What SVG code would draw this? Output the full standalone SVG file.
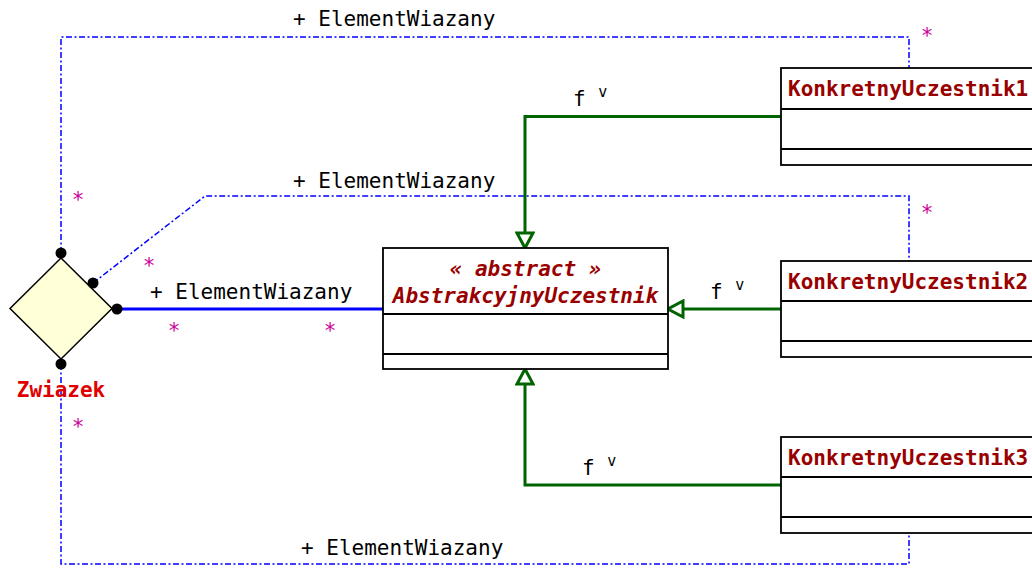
<svg xmlns="http://www.w3.org/2000/svg" width="1032" height="568" viewBox="0 0 1032 568">
<defs>
<style>
text{font-family:"DejaVu Sans Mono","Liberation Mono",monospace;font-size:21px}
.lbl{fill:#000}
.cls{fill:#990000;font-weight:bold}
.abs{fill:#990000;font-weight:bold;font-style:italic}
.mult{fill:#CC0099}
.box{fill:#fff;stroke:#000;stroke-width:1.8}
.sep{stroke:#000;stroke-width:1.8}
.dd{fill:none;stroke:#0000FF;stroke-width:1.5;stroke-dasharray:6 2.5 2 2.5}
.gen{fill:none;stroke:#006400;stroke-width:3}
.dot{fill:#000}
</style>
<marker id="tri" viewBox="0 0 20 20" refX="18" refY="10" markerWidth="20" markerHeight="20" markerUnits="userSpaceOnUse" orient="auto">
<path d="M3,2 L18,10 L3,18 Z" fill="#fff" stroke="#006400" stroke-width="3"/>
</marker>
</defs>
<rect width="1032" height="568" fill="#fff"/>
<g id="connectors">
<path class="dd" d="M61,253 L61,37 L909,37 L909,68"/>
<path class="dd" d="M93,283 L205,196 L909,196 L909,261"/>
<path class="dd" d="M61,364 L61,564 L909,564 L909,532"/>
<line x1="117" y1="309" x2="383" y2="309" stroke="#0000FF" stroke-width="3"/>
<path class="gen" d="M781,116.5 L525,116.5 L525,248" marker-end="url(#tri)"/>
<path class="gen" d="M781,309 L668,309" marker-end="url(#tri)"/>
<path class="gen" d="M781,485 L525,485 L525,369" marker-end="url(#tri)"/>
<text class="lbl" x="293" y="26">+ ElementWiazany</text>
<text class="lbl" x="293" y="188">+ ElementWiazany</text>
<text class="lbl" x="150" y="299">+ ElementWiazany</text>
<text class="lbl" x="301" y="555">+ ElementWiazany</text>
<text class="lbl" x="573" y="106">f <tspan font-size="15" dy="-9">v</tspan></text>
<text class="lbl" x="710" y="299">f <tspan font-size="15" dy="-9">v</tspan></text>
<text class="lbl" x="582" y="475">f <tspan font-size="15" dy="-9">v</tspan></text>
<text class="mult" x="927" y="43" text-anchor="middle">*</text>
<text class="mult" x="927" y="220" text-anchor="middle">*</text>
<text class="mult" x="78" y="207" text-anchor="middle">*</text>
<text class="mult" x="149" y="273" text-anchor="middle">*</text>
<text class="mult" x="174" y="338" text-anchor="middle">*</text>
<text class="mult" x="330" y="338" text-anchor="middle">*</text>
<text class="mult" x="78" y="434" text-anchor="middle">*</text>
</g>
<g id="Zwiazek">
<polygon points="61,258 112,308.5 61,359 10,308.5" fill="#FFFFD8" stroke="#000" stroke-width="1.5"/>
<circle class="dot" cx="61" cy="253" r="5.5"/>
<circle class="dot" cx="117" cy="309" r="5.5"/>
<circle class="dot" cx="61" cy="364" r="5.5"/>
<circle class="dot" cx="93" cy="283" r="5.5"/>
<text x="61" y="397" text-anchor="middle" font-weight="bold" fill="#E00000">Zwiazek</text>
</g>
<g id="AbstrakcyjnyUczestnik">
<rect class="box" x="383" y="248" width="285" height="121"/>
<line class="sep" x1="383" y1="314" x2="668" y2="314"/>
<line class="sep" x1="383" y1="354" x2="668" y2="354"/>
<text class="abs" x="525.5" y="276" text-anchor="middle">« abstract »</text>
<text class="abs" x="525.5" y="303" text-anchor="middle">AbstrakcyjnyUczestnik</text>
</g>
<g id="KonkretnyUczestnik1">
<rect class="box" x="781" y="68" width="260" height="97"/>
<line class="sep" x1="781" y1="109" x2="1041" y2="109"/>
<line class="sep" x1="781" y1="149" x2="1041" y2="149"/>
<text class="cls" x="788" y="96">KonkretnyUczestnik1</text>
</g>
<g id="KonkretnyUczestnik2">
<rect class="box" x="781" y="261" width="260" height="96"/>
<line class="sep" x1="781" y1="301" x2="1041" y2="301"/>
<line class="sep" x1="781" y1="341" x2="1041" y2="341"/>
<text class="cls" x="788" y="289">KonkretnyUczestnik2</text>
</g>
<g id="KonkretnyUczestnik3">
<rect class="box" x="781" y="437" width="260" height="96"/>
<line class="sep" x1="781" y1="477" x2="1041" y2="477"/>
<line class="sep" x1="781" y1="517" x2="1041" y2="517"/>
<text class="cls" x="788" y="465">KonkretnyUczestnik3</text>
</g>
</svg>
